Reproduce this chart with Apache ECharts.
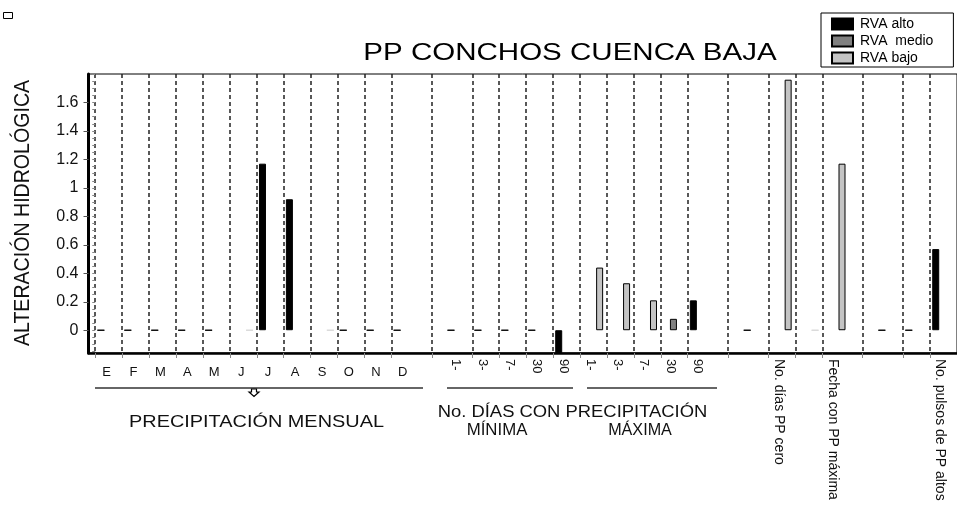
<!DOCTYPE html>
<html>
<head>
<meta charset="utf-8">
<title>PP CONCHOS CUENCA BAJA</title>
<script src="https://cdn.jsdelivr.net/npm/echarts@6/dist/echarts.min.js"></script>
<style>
html,body{margin:0;padding:0;background:#fff;}
#main{width:957px;height:510px;}
</style>
</head>
<body>
<div id="main"></div>
<script>
var FONT = '"Liberation Sans", Arial, sans-serif';

// posicion de cada categoria sobre el eje x (1 = ancho de una categoria)
var slots = [0,1,2,3,4,5,6,7,8,9,10,11, 13,14,15,16,17, 18,19,20,21,22, 24,25,26,27,29,30,31];
// valores RVA por categoria (null = sin barra)
var altoVals  = [0,0,0,0,0,null,1.17,0.92,null,0,0,0, 0,0,0,0,-0.16, null,null,null,null,0.21, 0,null,null,null,0,0,0.57];
var medioVals = [null,null,null,null,null,null,null,null,null,null,null,null, null,null,null,null,null, null,null,null,0.08,null, null,null,null,null,null,null,null];
var bajoVals  = [null,null,null,null,null,0,null,null,0,null,null,null, null,null,null,null,null, 0.44,0.33,0.21,null,null, null,1.76,0,1.17,null,null,null];

// separadores punteados / marcas del eje x
var separators = [0,1,2,3,4,5,6,7,8,9,10,11,12.5,14,15,16,17,18,19,20,21,22,23.5,25,26,27,28.5,30,31];

// etiquetas del eje x
var monthSlots = [0,1,2,3,4,5,6,7,8,9,10,11];
var monthLabels = ['E','F','M','A','M','J','J','A','S','O','N','D'];
var durSlots = [13,14,15,16,17,18,19,20,21,22];
var durLabels = ['1-','3-','7-','30','90','1-','3-','7-','30','90'];
var paramSlots = [25,27,31];
var paramLabels = ['No. días PP cero','Fecha con PP máxima','No. pulsos de PP altos'];

// eje y
var yTicks = [0,0.2,0.4,0.6,0.8,1,1.2,1.4,1.6];

var GROUP_MID = 0.47;
var MONTH_LABEL_POS = 0.42;
var ROT_LABEL_POS = 0.38;

var minorTicks = [];
for (var k = -3; k <= 36; k++) minorTicks.push(+(k * 0.05).toFixed(2));

function toData(vals, zeroColor) {
	var out = [];
	for (var i = 0; i < slots.length; i++) {
		if (vals[i] === null) continue;
		var item = { value: [slots[i] + GROUP_MID, vals[i]] };
		if (vals[i] === 0 && zeroColor) item.itemStyle = { borderColor: zeroColor };
		out.push(item);
	}
	return out;
}

function labelAt(slotArr, labArr, v, off) {
	var s = Math.round(v - off);
	var i = slotArr.indexOf(s);
	return i < 0 ? '' : labArr[i];
}

var myChart = echarts.init(document.getElementById('main'));

var option = {
	backgroundColor: '#fff',
	animation: false,
	textStyle: { fontFamily: FONT },
	grid: {
		left: 88.5, top: 74, width: 872, height: 279,
		show: true, borderColor: '#000', borderWidth: 1
	},
	legend: {
		orient: 'vertical', left: 821, top: 13,
		itemWidth: 21, itemHeight: 11, itemGap: 3,
		padding: [4, 20, 2, 10],
		borderColor: '#000', borderWidth: 1,
		icon: 'rect',
		textStyle: { fontSize: 14, fontFamily: FONT, color: '#000', padding: [0, 0, 0, 2] },
		data: ['RVA alto', 'RVA  medio', 'RVA bajo']
	},
	xAxis: [{
		type: 'value', min: -0.25, max: 32,
		axisLine: { show: true, onZero: false, lineStyle: { color: '#000', width: 2.5 } },
		axisTick: { show: true, customValues: separators, length: 5, lineStyle: { color: '#888' } },
		splitLine: { show: true, lineStyle: { color: '#222', width: 1.5, type: [4, 3] } },
		axisLabel: {
			customValues: monthSlots.map(function (s) { return s + MONTH_LABEL_POS; }),
			formatter: function (v) { return labelAt(monthSlots, monthLabels, v, MONTH_LABEL_POS); },
			fontSize: 13, color: '#111', margin: 13, fontFamily: FONT
		}
	}, {
		type: 'value', min: -0.25, max: 32, position: 'bottom',
		axisLine: { show: false }, axisTick: { show: false }, splitLine: { show: false },
		axisLabel: {
			customValues: durSlots.concat(paramSlots).map(function (s) { return s + ROT_LABEL_POS; }),
			rotate: -90, margin: 6, color: '#111', fontFamily: FONT,
			formatter: function (v) {
				var d = labelAt(durSlots, durLabels, v, ROT_LABEL_POS);
				if (d) return '{d|' + d + '}';
				return '{p|' + labelAt(paramSlots, paramLabels, v, ROT_LABEL_POS) + '}';
			},
			rich: {
				d: { fontSize: 13, fontFamily: FONT, color: '#111' },
				p: { fontSize: 14, fontFamily: FONT, color: '#111' }
			}
		}
	}],
	yAxis: [{
		type: 'value', min: -0.16, max: 1.8,
		axisLine: { show: true, onZero: false, lineStyle: { color: '#000', width: 3 } },
		axisTick: { show: true, customValues: yTicks, length: 5, lineStyle: { color: '#555' } },
		axisLabel: { customValues: yTicks, fontSize: 16, color: '#111', margin: 10, fontFamily: FONT },
		splitLine: { show: false }
	}, {
		type: 'value', min: -0.16, max: 1.8, position: 'left',
		axisLine: { show: false },
		axisTick: { show: true, customValues: minorTicks, length: 3, lineStyle: { color: '#888' } },
		axisLabel: { show: false },
		splitLine: { show: false }
	}],
	series: [{
		name: 'RVA alto', type: 'bar', barWidth: 7, barGap: '0%',
		itemStyle: { color: '#000', borderColor: '#000', borderWidth: 1 },
		data: toData(altoVals)
	}, {
		name: 'RVA  medio', type: 'bar', barWidth: 7, barGap: '0%',
		itemStyle: { color: '#808080', borderColor: '#000', borderWidth: 1 },
		data: toData(medioVals)
	}, {
		name: 'RVA bajo', type: 'bar', barWidth: 7, barGap: '0%',
		itemStyle: { color: '#c4c4c4', borderColor: '#000', borderWidth: 1 },
		data: toData(bajoVals, '#d8d8d8')
	}],
	graphic: [
		// cuadrito arriba a la izquierda
		{ type: 'rect', shape: { x: 3.5, y: 12.5, width: 9, height: 6 }, style: { fill: '#fff', stroke: '#000', lineWidth: 1 } },
		// titulo
		{ type: 'text', x: 570, y: 53, scaleX: 1.23,
			style: { text: 'PP CONCHOS CUENCA BAJA', fontSize: 24, fontFamily: FONT, fill: '#000', align: 'center', verticalAlign: 'middle', textAlign: 'center', textVerticalAlign: 'middle' } },
		// titulo eje y
		{ type: 'text', x: 23, y: 213, rotation: Math.PI / 2, scaleX: 0.89,
			style: { text: 'ALTERACIÓN HIDROLÓGICA', fontSize: 22, fontFamily: FONT, fill: '#111', align: 'center', verticalAlign: 'middle', textAlign: 'center', textVerticalAlign: 'middle' } },
		// llaves de grupo
		{ type: 'line', shape: { x1: 95, y1: 388, x2: 423, y2: 388 }, style: { stroke: '#333', lineWidth: 1.3 } },
		{ type: 'line', shape: { x1: 447, y1: 388, x2: 573, y2: 388 }, style: { stroke: '#333', lineWidth: 1.3 } },
		{ type: 'line', shape: { x1: 587, y1: 388, x2: 717, y2: 388 }, style: { stroke: '#333', lineWidth: 1.3 } },
		{ type: 'polygon', shape: { points: [[251.5, 389], [256.5, 389], [256.5, 392], [259, 392], [254, 396.5], [249, 392], [251.5, 392]] },
			style: { fill: '#fff', stroke: '#000', lineWidth: 1.2 } },
		// nombres de grupo
		{ type: 'text', x: 256.5, y: 422, scaleX: 1.17,
			style: { text: 'PRECIPITACIÓN MENSUAL', fontSize: 17, fontFamily: FONT, fill: '#111', align: 'center', verticalAlign: 'middle', textAlign: 'center', textVerticalAlign: 'middle' } },
		{ type: 'text', x: 572.5, y: 413, scaleX: 1.15,
			style: { text: 'No. DÍAS CON PRECIPITACIÓN', fontSize: 16, fontFamily: FONT, fill: '#111', align: 'center', verticalAlign: 'middle', textAlign: 'center', textVerticalAlign: 'middle' } },
		{ type: 'text', x: 497, y: 431, scaleX: 1.05,
			style: { text: 'MÍNIMA', fontSize: 16, fontFamily: FONT, fill: '#111', align: 'center', verticalAlign: 'middle', textAlign: 'center', textVerticalAlign: 'middle' } },
		{ type: 'text', x: 640, y: 431, scaleX: 1.01,
			style: { text: 'MÁXIMA', fontSize: 16, fontFamily: FONT, fill: '#111', align: 'center', verticalAlign: 'middle', textAlign: 'center', textVerticalAlign: 'middle' } }
	]
};

myChart.setOption(option);
window.addEventListener('resize', function () {
	myChart.resize();
});
</script>
</body>
</html>
